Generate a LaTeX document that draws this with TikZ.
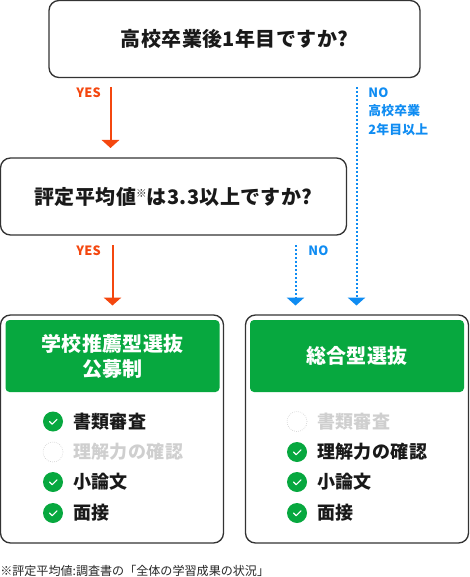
\documentclass[tikz,border=0pt]{standalone}
\usepackage{fontspec}
\setmainfont{Noto Sans CJK JP}[LetterSpace=2]
\newfontfamily\plainjp{Noto Sans CJK JP}
\usetikzlibrary{arrows.meta}
\definecolor{yescol}{HTML}{F4470F}
\definecolor{nocol}{HTML}{0F8CF2}
\definecolor{headcol}{HTML}{07A83F}
\definecolor{offcol}{HTML}{CFCFCF}
\definecolor{linecol}{HTML}{333333}
\tikzset{
  questionbox/.style={draw=linecol, line width=1pt, rounded corners=7.5pt, inner sep=0pt, font=\fontsize{15pt}{18pt}\selectfont\bfseries, text=black!90},
  resultbox/.style={draw=linecol, line width=1pt, rounded corners=7.5pt, inner sep=0pt},
  headbox/.style={fill=headcol, rounded corners=3pt, inner sep=0pt, align=center, text=white, font=\fontsize{15pt}{18.75pt}\selectfont\bfseries},
  checkon/.style={circle, fill=headcol, minimum size=15pt, inner sep=0pt, path picture={
    \draw[white, line width=0.9pt, line cap=round, line join=round] ([shift={(-2.6pt,0pt)}]path picture bounding box.center) -- ++(2pt,-2pt) -- ++(3.6pt,3.6pt);}},
  checkoff/.style={circle, draw=offcol, densely dotted, line width=0.5pt, minimum size=15pt, inner sep=0pt},
  itemon/.style={anchor=west, inner sep=0pt, text=black!90, font=\fontsize{13.5pt}{16pt}\selectfont\bfseries},
  itemoff/.style={itemon, text=offcol},
  yesarrow/.style={draw=yescol, line width=1.5pt, -{Triangle[width=13pt,length=6pt]}},
  noarrow/.style={draw=nocol, line width=1.5pt, dash pattern=on 1.5pt off 1.5pt, -{Triangle[width=13pt,length=6pt,sep=0pt]}},
  yeslabel/.style={inner sep=0pt, anchor=west, text=yescol, font=\fontsize{9.6pt}{13.5pt}\selectfont\bfseries},
  nolabel/.style={inner sep=0pt, anchor=west, align=left, text=nocol, font=\fontsize{9.6pt}{13.7pt}\selectfont\bfseries},
}
\begin{document}
\begin{tikzpicture}[x=0.75pt, y=-0.75pt]
\useasboundingbox (0,0) rectangle (470,577);

% --- questions ---
\node[questionbox, minimum width=278.25pt, minimum height=57.75pt] (yearq) at (234.5,39) {高校卒業後1年目ですか?};
\node[questionbox, minimum width=259.5pt, minimum height=57.75pt] (gradeq) at (173.5,196.5) {評定平均値\raisebox{5pt}{\fontsize{8pt}{8pt}\selectfont ※}は3.3以上ですか?};

% --- results ---
\node[resultbox, minimum width=167.25pt, minimum height=171pt] (leftbox) at (112,429) {};
\node[resultbox, minimum width=167.25pt, minimum height=171pt] (rightbox) at (357,429) {};
\node[headbox, minimum width=160.5pt, minimum height=54pt] (lefthead) at (112.5,356) {学校推薦型選抜\\公募制};
\node[headbox, minimum width=160.5pt, minimum height=54pt] (righthead) at (357,356) {総合型選抜};

% --- arrows ---
\coordinate (yes1a) at (110.5,87);
\coordinate (yes1b) at (110.5,148);
\coordinate (yes2a) at (112.5,245);
\coordinate (yes2b) at (112.5,305.5);
\coordinate (no1a) at (356.5,87);
\coordinate (no1b) at (356.5,305.5);
\coordinate (no2a) at (295.5,245);
\coordinate (no2b) at (295.5,305.5);
\draw[yesarrow] (yes1a) -- (yes1b);
\draw[yesarrow] (yes2a) -- (yes2b);
\draw[noarrow] (no1a) -- (no1b);
\draw[noarrow] (no2a) -- (no2b);
\node[yeslabel] (yes1) at (76,92.5) {YES};
\node[yeslabel] (yes2) at (76,250.5) {YES};
\node[nolabel, anchor=north west] (no1) at (368,87.5) {NO\\高校卒業\\2年目以上};
\node[nolabel] (no2) at (308,250.5) {NO};

% --- left list ---
\node[checkon] (l1) at (53,421.5) {};
\node[checkoff] (l2) at (53,452) {};
\node[checkon] (l3) at (53,482) {};
\node[checkon] (l4) at (53,513) {};
\node[itemon] (lt1) at (73,421.5) {書類審査};
\node[itemoff] (lt2) at (73,452) {理解力の確認};
\node[itemon] (lt3) at (73,482) {小論文};
\node[itemon] (lt4) at (73,513) {面接};

% --- right list ---
\node[checkoff] (r1) at (297,421.5) {};
\node[checkon] (r2) at (297,452) {};
\node[checkon] (r3) at (297,482) {};
\node[checkon] (r4) at (297,513) {};
\node[itemoff] (rt1) at (317,421.5) {書類審査};
\node[itemon] (rt2) at (317,452) {理解力の確認};
\node[itemon] (rt3) at (317,482) {小論文};
\node[itemon] (rt4) at (317,513) {面接};

% --- note ---
\node[inner sep=0pt, anchor=west, text=black!85, font=\fontsize{9.05pt}{10pt}\plainjp] (note) at (0,571) {※評定平均値:調査書の「全体の学習成果の状況」};
\end{tikzpicture}
\end{document}
